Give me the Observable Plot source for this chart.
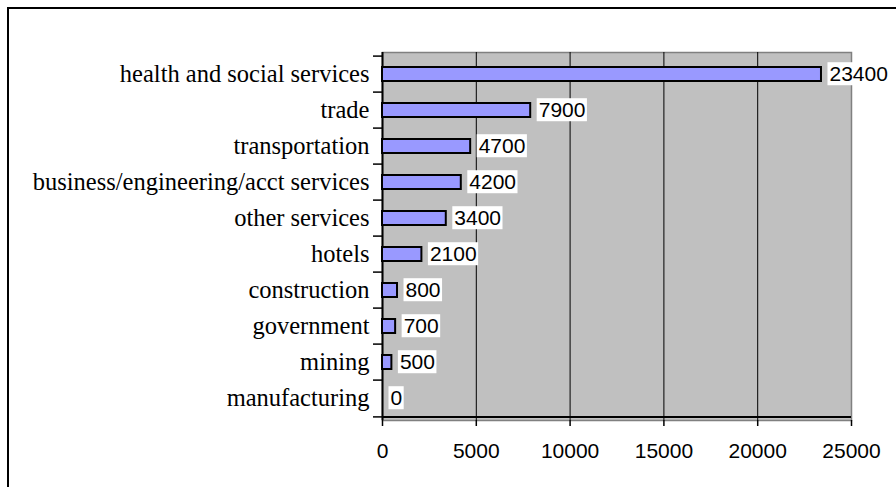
<!DOCTYPE html>
<html><head><meta charset="utf-8">
<script src="https://cdn.jsdelivr.net/npm/d3@7"></script>
<script src="https://cdn.jsdelivr.net/npm/@observablehq/plot@0.6"></script>
<style>
html,body{margin:0;padding:0;background:#fff;overflow:hidden;}
#wrap{position:relative;width:896px;height:487px;overflow:hidden;background:#fff;}
#border{position:absolute;left:7px;top:7px;width:1000px;height:1000px;border:2px solid #000;box-sizing:border-box;}
#chart{position:absolute;left:0;top:0;}
</style></head><body>
<div id="wrap"><div id="border"></div><div id="chart"></div></div>
<script>
const categories = ["health and social services","trade","transportation","business/engineering/acct services","other services","hotels","construction","government","mining","manufacturing"];
const values = [23400, 7900, 4700, 4200, 3400, 2100, 800, 700, 500, 0];
const xTicks = [0, 5000, 10000, 15000, 20000, 25000];
const gridValues = [5000, 10000, 15000, 20000];

const data = categories.map((c, i) => ({category: c, value: values[i]}));
const W = 896, H = 487, mL = 382, mR = 45, mT = 52, mB = 67;
const step = (H - mT - mB) / categories.length;
const serif = "'Liberation Serif', 'Times New Roman', serif";
const sans = "'Liberation Sans', Arial, sans-serif";

const plot = Plot.plot({
  width: W, height: H,
  marginLeft: mL, marginRight: mR, marginTop: mT, marginBottom: mB,
  style: {background: "transparent", color: "black", overflow: "visible"},
  x: {domain: [0, 25000]},
  y: {domain: categories, paddingInner: 0.62, paddingOuter: 0.31},
  marks: [
    Plot.frame({fill: "#c0c0c0", stroke: "#808080", strokeWidth: 1.5}),
    Plot.ruleX(gridValues, {stroke: "black", strokeWidth: 1}),
    Plot.ruleX([0], {stroke: "black", strokeWidth: 2}),
    Plot.ruleY([categories[categories.length - 1]], {x1: 0, x2: 25000, dy: step / 2, stroke: "black", strokeWidth: 2}),
    Plot.axisY({tickSize: 9, tickFormat: () => "", dy: -step / 2, strokeWidth: 1.5, label: null}),
    Plot.axisY({ticks: [categories[categories.length - 1]], tickSize: 9, tickFormat: () => "", dy: step / 2, strokeWidth: 1.5, label: null}),
    Plot.axisY({tickSize: 0, tickPadding: 13, fontFamily: serif, fontSize: 24.5, label: null}),
    Plot.axisX({ticks: xTicks, tickFormat: d => String(d), tickSize: 6, tickPadding: 17, fontFamily: sans, fontSize: 21, label: null, strokeWidth: 1.5}),
    Plot.barX(data, {x: "value", y: "category", fill: "#9999ff", stroke: "black", strokeWidth: 2}),
    Plot.text(data, {x: "value", y: "category", text: d => String(d.value), dx: 8, textAnchor: "start", fontFamily: sans, fontSize: 21, fill: "black"})
  ]
});
document.getElementById("chart").appendChild(plot);
const g = plot.querySelector('g[aria-label="text"]');
if (g) {
  g.querySelectorAll("text").forEach(t => {
    const b = t.getBBox();
    const r = document.createElementNS("http://www.w3.org/2000/svg", "rect");
    r.setAttribute("x", b.x - 2);
    r.setAttribute("y", b.y);
    r.setAttribute("width", b.width + 3.5);
    r.setAttribute("height", b.height);
    r.setAttribute("fill", "white");
    const tr = t.getAttribute("transform");
    if (tr) r.setAttribute("transform", tr);
    t.parentNode.insertBefore(r, t);
  });
}
</script>
</body></html>
